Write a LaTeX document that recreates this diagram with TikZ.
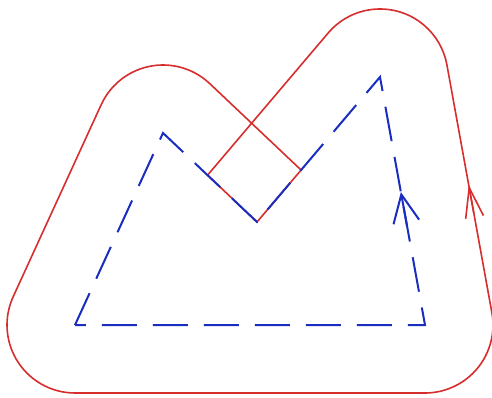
\documentclass[tikz,border=0pt]{standalone}
\usetikzlibrary{calc,arrows.meta}
\begin{document}
\begin{tikzpicture}[x=1pt,y=1pt,
  redline/.style={draw={rgb,255:red,215;green,45;blue,45}, line width=1.6pt, line join=round},
  blueline/.style={draw={rgb,255:red,25;green,45;blue,190}, line width=2pt, dash pattern=on 35pt off 16pt},
  bluearrow/.style={draw={rgb,255:red,25;green,45;blue,190}, line width=2pt, -{Straight Barb[length=28pt,width=26pt,line width=2pt]}},
  redarrow/.style={redline, -{Straight Barb[length=30pt,width=18pt,line width=1.6pt]}}]
\useasboundingbox (0,0) rectangle (492,397);
\def\rr{68}
% polygon vertices
\coordinate (A) at (75,72);
\coordinate (B) at (163,264);
\coordinate (C) at (257,175);
\coordinate (D) at (380,320);
\coordinate (E) at (425,72);
% offset points
\coordinate (A1) at ($(A)+(270:\rr)$);
\coordinate (B1) at ($(B)+(155.4:\rr)$);
\coordinate (B2) at ($(B)+(46.56:\rr)$);
\coordinate (C2) at ($(C)+(46.56:\rr)$);
\coordinate (C3) at ($(C)+(139.7:\rr)$);
\coordinate (D1) at ($(D)+(139.7:\rr)$);
\coordinate (D2) at ($(D)+(10.28:\rr)$);
\coordinate (E1) at ($(E)+(10.28:\rr)$);
\coordinate (P1) at (intersection of B2--C2 and C--D);
\coordinate (P2) at (intersection of C3--D1 and B--C);
% red outline
\draw[redline] (A1) arc[start angle=270, end angle=155.4, radius=\rr]
  -- (B1) arc[start angle=155.4, end angle=46.56, radius=\rr]
  -- (P1) -- (C) -- (P2)
  -- (D1) arc[start angle=139.7, end angle=10.28, radius=\rr]
  -- (E1) arc[start angle=10.28, end angle=-90, radius=\rr]
  -- cycle;
% blue dashed polygon
\draw[blueline] (A) -- (B) -- (C) -- (D) -- (E) -- cycle;
% arrows
\coordinate (ba0) at ($(E)!0.40!(D)$);
\coordinate (ba1) at ($(E)!0.536!(D)$);
\draw[bluearrow] (ba0) -- (ba1);
\coordinate (ra0) at ($(E1)!0.40!(D2)$);
\coordinate (ra1) at ($(E1)!0.516!(D2)$);
\draw[redarrow] (ra0) -- (ra1);
\end{tikzpicture}
\end{document}
